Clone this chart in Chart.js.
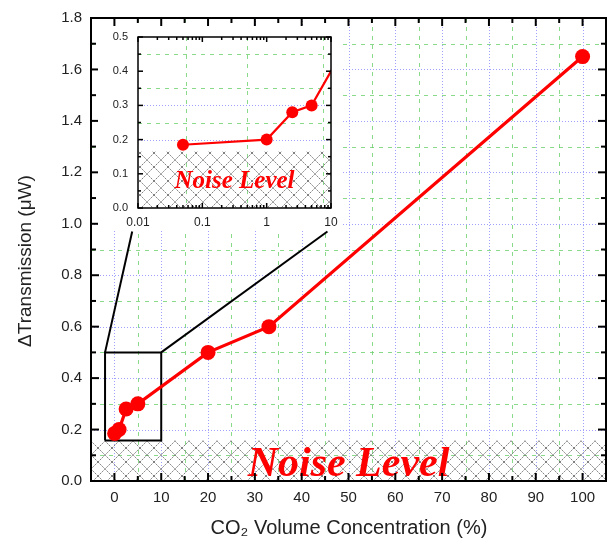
<!DOCTYPE html>
<html>
<head>
<meta charset="utf-8">
<script src="https://cdn.jsdelivr.net/npm/chart.js@4.4.0/dist/chart.umd.min.js"></script>
<style>
body { margin: 0; background: #fff; }
#wrap { position: relative; width: 607px; height: 544px; }
#mainChart { position: absolute; left: 0; top: 0; }
#insetChart { position: absolute; left: 98px; top: 27px; }
</style>
</head>
<body>
<div id="wrap">
  <canvas id="mainChart" width="607" height="544"></canvas>
  <canvas id="insetChart" width="243" height="203"></canvas>
</div>
<script>
// ---- values ----
var co2Conc = [0.05, 1, 2.5, 5, 20, 33, 100];          // %
var deltaTrans = [0.185, 0.2, 0.28, 0.3, 0.5, 0.6, 1.65]; // uW
var noiseMain = 0.157;
var noiseInset = 0.167;

var xTicksMain = [0, 10, 20, 30, 40, 50, 60, 70, 80, 90, 100];
var xMinorMain = [5, 15, 25, 35, 45, 55, 65, 75, 85, 95];
var yTicksMain = [0, 0.2, 0.4, 0.6, 0.8, 1.0, 1.2, 1.4, 1.6, 1.8];
var yMinorMain = [0.1, 0.3, 0.5, 0.7, 0.9, 1.1, 1.3, 1.5, 1.7];

var xTicksInset = [0.01, 0.1, 1, 10];
var xMinorInset = [0.02, 0.03, 0.04, 0.05, 0.06, 0.07, 0.08, 0.09,
                   0.2, 0.3, 0.4, 0.5, 0.6, 0.7, 0.8, 0.9,
                   2, 3, 4, 5, 6, 7, 8, 9];
var yTicksInset = [0, 0.1, 0.2, 0.3, 0.4, 0.5];
var yMinorInset = [0.05, 0.15, 0.25, 0.35, 0.45];
var xGreenInset = [0.055, 0.5, 7.5];
var yBlueInset = [0.2, 0.3];
var yGreenInset = [0.25, 0.35, 0.45];

// zoom box + the two lines going up to the inset
var boxX = [-2, -2, 10, 10, -2];
var boxY = [0.157, 0.5, 0.5, 0.157, 0.157];
var linkLeftX = [-2, 3.8], linkLeftY = [0.5, 0.97];
var linkRightX = [10, 45.5], linkRightY = [0.5, 0.97];

var BLUE = 'rgba(120,120,255,0.7)';
var GREEN = 'rgba(100,205,100,0.75)';
var SANS = '"Liberation Sans", Arial, sans-serif';

function pts(xs, ys) {
    return xs.map(function(x, i) { return {x: x, y: ys[i]}; });
}

function hatch() {
    var c = document.createElement('canvas');
    c.width = 14; c.height = 14;
    var g = c.getContext('2d');
    g.strokeStyle = '#6a6a6a';
    g.lineWidth = 0.85;
    g.setLineDash([2, 1]);
    g.beginPath();
    g.moveTo(0, 0); g.lineTo(14, 14);
    g.moveTo(14, 0); g.lineTo(0, 14);
    g.stroke();
    return g.createPattern(c, 'repeat');
}

function vline(ctx, x, top, bottom) { ctx.beginPath(); ctx.moveTo(x, top); ctx.lineTo(x, bottom); ctx.stroke(); }
function hline(ctx, y, left, right) { ctx.beginPath(); ctx.moveTo(left, y); ctx.lineTo(right, y); ctx.stroke(); }

// grid, frame, inward ticks and the "Noise Level" label
function framePlugin(o) {
    return {
        id: 'frame',
        beforeDraw: function(chart) {
            var ctx = chart.ctx;
            ctx.save();
            ctx.fillStyle = '#fff';
            ctx.fillRect(0, 0, chart.width, chart.height);
            ctx.restore();
        },
        beforeDatasetsDraw: function(chart) {
            var ctx = chart.ctx, a = chart.chartArea, xs = chart.scales.x, ys = chart.scales.y;
            ctx.save();
            ctx.lineWidth = 1;
            ctx.strokeStyle = BLUE; ctx.setLineDash([1, 2]);
            o.xBlue.forEach(function(v) { vline(ctx, Math.round(xs.getPixelForValue(v)) + 0.5, a.top, a.bottom); });
            o.yBlue.forEach(function(v) { hline(ctx, Math.round(ys.getPixelForValue(v)) + 0.5, a.left, a.right); });
            ctx.strokeStyle = GREEN; ctx.setLineDash([4, 5]);
            o.xGreen.forEach(function(v) { vline(ctx, Math.round(xs.getPixelForValue(v)) + 0.5, a.top, a.bottom); });
            o.yGreen.forEach(function(v) { hline(ctx, Math.round(ys.getPixelForValue(v)) + 0.5, a.left, a.right); });
            ctx.restore();
        },
        afterDatasetsDraw: function(chart) {
            var ctx = chart.ctx, a = chart.chartArea, xs = chart.scales.x, ys = chart.scales.y;
            ctx.save();
            // noise label
            ctx.fillStyle = '#ff0000';
            ctx.font = 'italic bold ' + o.noiseFont + 'px "Liberation Serif", "Times New Roman", serif';
            ctx.textAlign = 'center';
            ctx.textBaseline = 'alphabetic';
            ctx.fillText('Noise Level', (a.left + a.right) / 2 + o.noiseDx, ys.getPixelForValue(o.noiseY));
            // ticks pointing in
            ctx.strokeStyle = '#000';
            ctx.setLineDash([]);
            function tk(xv, yv, len) {
                ctx.lineWidth = o.tickW;
                xv.forEach(function(v) {
                    var p = xs.getPixelForValue(v);
                    vline(ctx, p, a.bottom, a.bottom - len);
                    vline(ctx, p, a.top, a.top + len);
                });
                yv.forEach(function(v) {
                    var p = ys.getPixelForValue(v);
                    hline(ctx, p, a.left, a.left + len);
                    hline(ctx, p, a.right, a.right - len);
                });
            }
            tk(o.xMajor, o.yMajor, o.majorLen);
            tk(o.xMinor, o.yMinor, o.minorLen);
            ctx.lineWidth = o.frameW;
            ctx.strokeRect(a.left, a.top, a.right - a.left, a.bottom - a.top);
            // axis titles
            if (o.titles) {
                ctx.fillStyle = '#222';
                ctx.textBaseline = 'middle';
                ctx.textAlign = 'center';
                ctx.font = '20px ' + SANS;
                ctx.fillText('CO\u2082 Volume Concentration (%)', 349, 528);
                ctx.translate(26, 261);
                ctx.rotate(-Math.PI / 2);
                ctx.font = '19px ' + SANS;
                ctx.fillText('\u0394Transmission (\u03bcW)', 0, 0);
            }
            ctx.restore();
        }
    };
}

function setTicks(list) {
    return function(scale) { scale.ticks = list.map(function(v) { return {value: v}; }); };
}
function fitH(h) {
    return function(s) { s.height = h; s.paddingLeft = 0; s.paddingRight = 0; s.paddingTop = 0; s.paddingBottom = 0; };
}
function fitW(w) {
    return function(s) { s.width = w; s.paddingLeft = 0; s.paddingRight = 0; s.paddingTop = 0; s.paddingBottom = 0; };
}

function initCharts() {
    var pattern = hatch();

    // ---------------- main chart ----------------
    var ctxMain = document.getElementById('mainChart');
    new Chart(ctxMain, {
        type: 'scatter',
        data: {
            datasets: [
                {
                    data: pts(co2Conc, deltaTrans),
                    showLine: true,
                    borderColor: '#ff0000',
                    borderWidth: 3.2,
                    backgroundColor: '#ff0000',
                    pointRadius: 7.5,
                    pointBorderWidth: 0
                },
                { data: pts(boxX, boxY), showLine: true, borderColor: '#000', borderWidth: 2, pointRadius: 0 },
                { data: pts(linkLeftX, linkLeftY), showLine: true, borderColor: '#000', borderWidth: 2, pointRadius: 0 },
                { data: pts(linkRightX, linkRightY), showLine: true, borderColor: '#000', borderWidth: 2, pointRadius: 0 },
                {
                    data: pts([-5, 105], [noiseMain, noiseMain]),
                    showLine: true,
                    borderWidth: 0,
                    borderColor: 'rgba(0,0,0,0)',
                    pointRadius: 0,
                    fill: 'origin',
                    backgroundColor: pattern
                }
            ]
        },
        options: {
            responsive: false,
            animation: false,
            layout: { autoPadding: false, padding: { top: 18, right: 1, left: 0, bottom: 0 } },
            plugins: { legend: { display: false }, tooltip: { enabled: false } },
            scales: {
                x: {
                    type: 'linear', min: -5, max: 105,
                    afterBuildTicks: setTicks(xTicksMain),
                    afterFit: fitH(63),
                    grid: { display: false, drawTicks: false },
                    border: { display: false },
                    ticks: { autoSkip: false, maxRotation: 0, padding: 8, color: '#222', font: { family: SANS, size: 15 },
                             callback: function(v) { return String(v); } }
                },
                y: {
                    type: 'linear', min: 0, max: 1.8,
                    afterBuildTicks: setTicks(yTicksMain),
                    afterFit: fitW(91),
                    grid: { display: false, drawTicks: false },
                    border: { display: false },
                    ticks: { autoSkip: false, padding: 9, color: '#222', font: { family: SANS, size: 15 },
                             callback: function(v) { return v.toFixed(1); } }
                }
            }
        },
        plugins: [framePlugin({
            xBlue: xTicksMain, yBlue: yTicksMain.slice(1, -1),
            xGreen: xMinorMain, yGreen: yMinorMain,
            xMajor: xTicksMain, yMajor: yTicksMain, xMinor: xMinorMain, yMinor: yMinorMain,
            majorLen: 8, minorLen: 5, tickW: 2, frameW: 2,
            noiseFont: 42, noiseY: 0.02, noiseDx: 0, titles: true
        })]
    });

    // ---------------- inset (log x) ----------------
    var ctxInset = document.getElementById('insetChart');
    new Chart(ctxInset, {
        type: 'scatter',
        data: {
            datasets: [
                {
                    data: pts(co2Conc, deltaTrans),
                    showLine: true,
                    borderColor: '#ff0000',
                    borderWidth: 2.2,
                    backgroundColor: '#ff0000',
                    pointRadius: 6,
                    pointBorderWidth: 0
                },
                {
                    data: pts([0.01, 10], [noiseInset, noiseInset]),
                    showLine: true,
                    borderWidth: 0,
                    borderColor: 'rgba(0,0,0,0)',
                    pointRadius: 0,
                    fill: 'origin',
                    backgroundColor: pattern
                }
            ]
        },
        options: {
            responsive: false,
            animation: false,
            layout: { autoPadding: false, padding: { top: 10, right: 10, left: 0, bottom: 0 } },
            plugins: { legend: { display: false }, tooltip: { enabled: false } },
            scales: {
                x: {
                    type: 'logarithmic', min: 0.01, max: 10,
                    afterBuildTicks: setTicks(xTicksInset),
                    afterFit: fitH(22),
                    grid: { display: false, drawTicks: false },
                    border: { display: false },
                    ticks: { autoSkip: false, maxRotation: 0, padding: 7, color: '#222', font: { family: SANS, size: 12 },
                             callback: function(v) { return String(v); } }
                },
                y: {
                    type: 'linear', min: 0, max: 0.5,
                    afterBuildTicks: setTicks(yTicksInset),
                    afterFit: fitW(40),
                    grid: { display: false, drawTicks: false },
                    border: { display: false },
                    ticks: { autoSkip: false, padding: 10, color: '#222', font: { family: SANS, size: 11 },
                             callback: function(v) { return v.toFixed(1); } }
                }
            }
        },
        plugins: [framePlugin({
            xBlue: [], yBlue: yBlueInset,
            xGreen: xGreenInset, yGreen: yGreenInset,
            xMajor: xTicksInset, yMajor: yTicksInset, xMinor: xMinorInset, yMinor: yMinorInset,
            majorLen: 5, minorLen: 3, tickW: 1.5, frameW: 1.5,
            noiseFont: 25, noiseY: 0.058, noiseDx: 0, titles: false
        })]
    });
}

initCharts();
</script>
</body>
</html>
